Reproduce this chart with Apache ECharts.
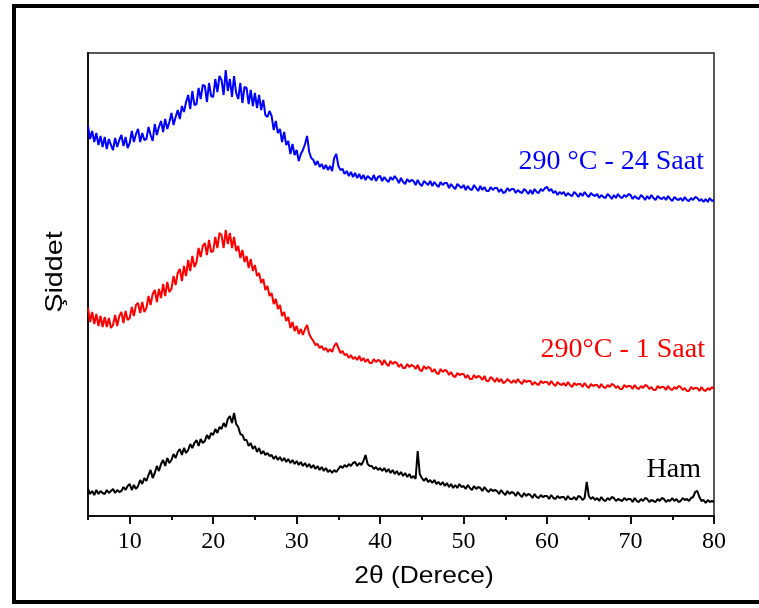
<!DOCTYPE html>
<html>
<head>
<meta charset="utf-8">
<script src="https://cdn.jsdelivr.net/npm/echarts@6/dist/echarts.min.js"></script>
<style>
  html, body { margin: 0; padding: 0; background: #fff; }
  #chart { width: 759px; height: 608px; }
</style>
</head>
<body>
<div id="chart"></div>
<script>
// Diffraction angle sampling grid (degrees 2θ)
const thetaStart = 5;
const thetaStep = 0.25;

// Intensity (arbitrary units, curves stacked with offsets), one value per 0.25° from 5° to 80°
const saat24 = [
  390,377,385,374, 383,371,380,369, 379,367,377,371, 366,378,369,376,
  381,370,379,368, 373,385,374,382, 387,374,383,376, 377,389,381,375,
  392,381,389,395, 384,397,387,394, 403,391,399,406, 397,410,404,414,
  421,407,425,411, 412,428,417,431, 430,414,433,420, 419,437,424,440,
  436,421,446,425, 437,419,440,423, 417,433,413,429, 428,412,426,410,
  423,408,421,406, 416,401,399,405, 400,386,395,383, 387,374,384,371,
  375,362,372,361, 366,355,362,366, 372,380,364,358, 356,351,355,349,
  352,347,351,346, 350,345,358,362, 350,346,347,342, 345,340,344,339,
  343,338,342,337, 341,336,340,338, 336,341,335,339, 340,335,339,336,
  334,339,336,340, 337,333,338,334, 332,337,334,336, 335,331,336,332,
  330,335,333,331, 335,330,334,331, 329,334,331,333, 333,328,332,329,
  327,332,330,328, 331,326,330,327, 326,331,328,325, 330,326,329,325,
  325,329,326,328, 328,324,327,323, 324,328,325,327, 327,323,326,324,
  323,327,325,322, 326,322,327,324, 323,327,325,328, 329,325,327,323,
  325,321,324,322, 324,320,323,321, 320,324,322,319, 323,320,324,321,
  319,323,321,320, 322,318,321,319, 318,322,320,317, 321,318,322,319,
  318,321,319,322, 321,317,320,318, 317,321,319,316, 320,317,321,318,
  316,320,318,317, 319,316,320,317, 315,319,317,316, 318,315,319,316,
  315,318,316,319, 318,315,317,314, 317,314,318,315,
  316
];

const saat1 = [
  208,194,204,192, 202,190,200,189, 199,189,198,188, 191,201,190,200,
  204,193,205,196, 198,209,200,211, 213,203,214,204, 208,220,211,222,
  226,214,227,218, 232,220,234,224, 227,240,231,243, 247,235,250,240,
  256,245,260,249, 254,268,259,270, 273,261,276,264, 265,279,268,283,
  281,268,286,272, 283,268,279,265, 270,258,266,254, 260,248,257,245,
  251,240,243,233, 237,226,230,220, 223,212,217,207, 211,200,204,195,
  199,188,194,185, 190,182,187,181, 187,191,182,178, 175,171,172,168,
  170,166,168,164, 167,164,170,173, 168,163,165,161, 162,158,161,157,
  159,156,160,155, 158,154,157,153, 153,157,154,156, 155,151,156,152,
  150,155,152,154, 153,149,152,148, 148,152,149,151, 150,147,151,146,
  145,150,147,149, 148,144,147,143, 142,147,144,146, 145,141,144,140,
  139,143,141,142, 142,138,141,137, 137,141,138,140, 139,136,140,135,
  135,139,137,134, 138,134,137,133, 134,137,135,133, 136,133,137,134,
  132,136,134,135, 135,131,134,132, 131,135,133,134, 134,131,135,132,
  130,134,132,131, 133,130,134,131, 129,133,131,132, 132,129,133,130,
  128,132,130,131, 131,128,132,129, 128,131,129,132, 131,128,130,127,
  127,131,129,130, 130,127,131,128, 127,130,128,131, 130,127,129,126,
  126,130,128,129, 129,126,130,127, 126,129,127,130, 129,126,128,125,
  125,129,127,128, 128,125,129,126, 125,128,126,129,
  127
];

const ham = [
  27,22,25,21, 26,22,25,23, 22,26,23,25, 27,23,26,24,
  25,29,26,30, 32,26,31,27, 30,36,32,38, 35,41,46,38,
  43,50,45,52, 56,50,58,53, 56,62,58,64, 67,61,68,63,
  66,72,68,73, 76,70,77,73, 75,81,77,83, 81,87,83,89,
  87,93,89,97, 100,93,103,92, 89,82,81,76, 76,70,73,67,
  70,64,68,62, 65,61,63,60, 61,57,60,56, 59,55,58,54,
  57,53,56,52, 55,51,54,50, 53,49,52,48, 51,47,50,46,
  49,45,48,44, 46,43,46,44, 47,50,48,51, 49,52,50,53,
  54,50,53,51, 55,61,52,50, 50,47,49,46, 48,45,48,44,
  47,43,46,42, 45,41,44,40, 43,39,42,38, 40,37,65,42,
  38,35,38,34, 36,33,36,32, 34,31,34,30, 33,29,32,28,
  31,28,32,29, 30,27,31,28, 26,30,27,29, 28,25,29,26,
  24,27,25,26, 25,22,26,23, 21,25,22,24, 23,20,24,21,
  19,23,20,22, 21,18,22,19, 18,21,19,20, 20,17,21,18,
  17,20,18,19, 19,16,20,17, 17,19,16,20, 19,16,18,34,
  20,17,19,16, 18,15,19,16, 15,18,16,19, 18,15,17,16,
  15,18,16,17, 17,14,18,15, 14,17,15,18, 17,14,16,15,
  14,17,15,18, 17,14,16,15, 18,15,17,14, 15,18,16,17,
  15,18,19,24, 25,19,15,16, 13,16,14,15,
  14
];

// Sample names placed beside their curves
const sampleNames = ['290 °C - 24 Saat', '290°C - 1 Saat', 'Ham'];
const sampleColors = ['#0000ff', '#ff0000', '#000000'];

// Axis ticks
const majorTicks = [10, 20, 30, 40, 50, 60, 70, 80];
const minorTicks = [5, 15, 25, 35, 45, 55, 65, 75];

function toPairs(values) {
  return values.map((v, i) => [thetaStart + i * thetaStep, v]);
}

const chart = echarts.init(document.getElementById('chart'), null, { renderer: 'canvas' });

const series = [saat24, saat1, ham].map((vals, k) => ({
  type: 'line',
  name: sampleNames[k],
  data: toPairs(vals),
  showSymbol: false,
  animation: false,
  lineStyle: { color: sampleColors[k], width: 2 }
}));

chart.setOption({
  backgroundColor: '#ffffff',
  animation: false,
  grid: {
    left: 88, top: 53, right: 45, bottom: 92,
    show: true, borderColor: '#222', borderWidth: 1.5
  },
  xAxis: [
    {
      type: 'value', min: 5, max: 80, interval: 5,
      axisLine: { show: true, lineStyle: { color: '#111', width: 2 } },
      axisTick: { show: true, customValues: majorTicks, length: 8, inside: false,
                  lineStyle: { color: '#111', width: 2 } },
      axisLabel: { show: true, customValues: majorTicks, margin: 14,
                   color: '#000', fontFamily: 'Liberation Serif', fontSize: 24 },
      splitLine: { show: false }
    },
    {
      type: 'value', min: 5, max: 80, interval: 5, position: 'bottom',
      axisLine: { show: false },
      axisTick: { show: true, customValues: minorTicks, length: 4, inside: false,
                  lineStyle: { color: '#111', width: 2 } },
      axisLabel: { show: false },
      splitLine: { show: false }
    }
  ],
  yAxis: {
    type: 'value', min: 0, max: 463,
    axisLine: { show: true, lineStyle: { color: '#111', width: 2 } },
    axisTick: { show: false },
    axisLabel: { show: false },
    splitLine: { show: false }
  },
  series: series,
  graphic: [
    // outer frame around the figure
    { type: 'rect', silent: true, z: 100,
      shape: { x: 14, y: 6, width: 800, height: 596 },
      style: { fill: 'none', stroke: '#000', lineWidth: 4 } },
    { type: 'text', silent: true, z: 100, x: 704, y: 162,
      style: { text: sampleNames[0], fill: sampleColors[0], align: 'right', verticalAlign: 'middle',
               font: '28px "Liberation Serif"' } },
    { type: 'text', silent: true, z: 100, x: 705, y: 350,
      style: { text: sampleNames[1], fill: sampleColors[1], align: 'right', verticalAlign: 'middle',
               font: '28px "Liberation Serif"' } },
    { type: 'text', silent: true, z: 100, x: 701, y: 470,
      style: { text: sampleNames[2], fill: sampleColors[2], align: 'right', verticalAlign: 'middle',
               font: '28px "Liberation Serif"' } },
    // axis titles
    { type: 'text', silent: true, z: 100, x: 424, y: 576, scaleX: 1.1,
      style: { text: '2θ (Derece)', fill: '#000', align: 'center', verticalAlign: 'middle',
               font: '24px "Liberation Sans"' } },
    { type: 'text', silent: true, z: 100, x: 55, y: 272, rotation: Math.PI / 2, scaleX: 1.2,
      style: { text: 'Şiddet', fill: '#000', align: 'center', verticalAlign: 'middle',
               font: '24px "Liberation Sans"' } }
  ]
});
</script>
</body>
</html>
